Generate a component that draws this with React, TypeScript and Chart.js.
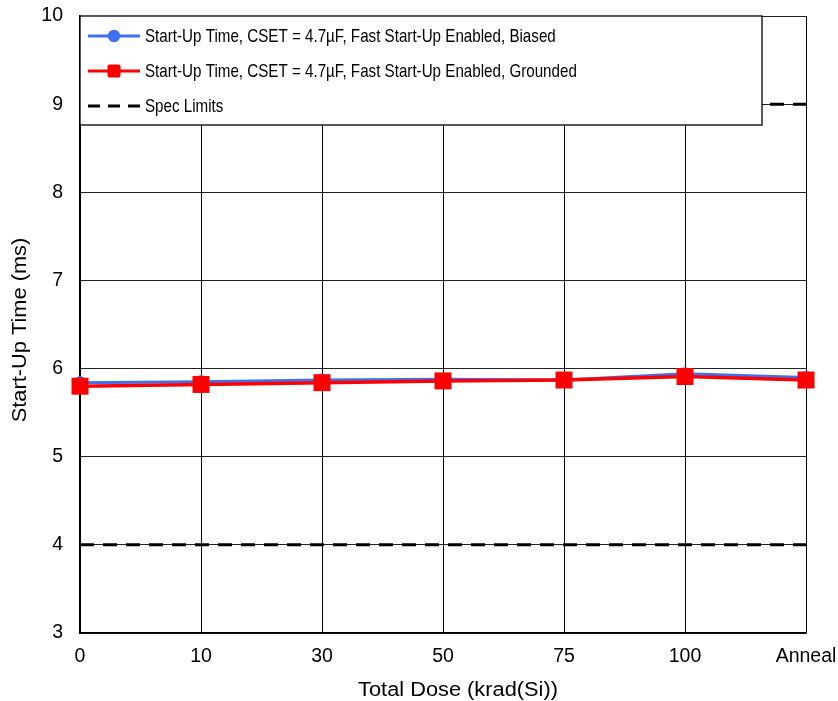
import React, { useEffect, useRef } from "react";
import { Chart, registerables } from "chart.js";

Chart.register(...registerables);

const categories = ["0", "10", "30", "50", "75", "100", "Anneal"];
const biased = [5.84, 5.85, 5.87, 5.88, 5.87, 5.94, 5.9];
const grounded = [5.8, 5.82, 5.84, 5.86, 5.87, 5.91, 5.87];
const specLow = [4, 4, 4, 4, 4, 4, 4];
const specHigh = [9, 9, 9, 9, 9, 9, 9];
const yTicks = [3, 4, 5, 6, 7, 8, 9, 10];
const xTitle = "Total Dose (krad(Si))";
const yTitle = "Start-Up Time (ms)";
const legendLabels = [
  "Start-Up Time, CSET = 4.7µF, Fast Start-Up Enabled, Biased",
  "Start-Up Time, CSET = 4.7µF, Fast Start-Up Enabled, Grounded",
  "Spec Limits",
];

const BLUE = "#3d70f3";
const RED = "#ff0000";
const FONT = "'Liberation Sans', Arial, sans-serif";

function drawText(ctx: any, text: string, x: number, y: number, size: number, sx: number, align: string, rot = 0) {
  ctx.save();
  ctx.translate(x, y);
  ctx.rotate(rot);
  ctx.scale(sx, 1);
  ctx.font = `${size}px ${FONT}`;
  ctx.textAlign = align;
  ctx.textBaseline = "middle";
  ctx.fillStyle = "#000";
  ctx.fillText(text, 0, 0);
  ctx.restore();
}

const textPlugin = {
  id: "axisText",
  afterDraw(chart: any) {
    const { ctx, chartArea, scales } = chart;
    const xs = scales.x;
    const ys = scales.y;
    xs.ticks.forEach((t: any, i: number) => {
      const px = xs.getPixelForTick(i);
      drawText(ctx, String(xs.getLabelForValue(t.value)), px, chartArea.bottom + 24, 19.5, 1, "center");
    });
    ys.ticks.forEach((t: any) => {
      const py = ys.getPixelForValue(t.value);
      drawText(ctx, String(t.value), chartArea.left - 17, py, 19.5, 1, "right");
    });
    drawText(ctx, xTitle, 458, chartArea.bottom + 57, 20, 1.09, "center");
    drawText(ctx, yTitle, 20, 330, 20, 1.09, "center", -Math.PI / 2);
  },
};

const legendPlugin = {
  id: "boxLegend",
  afterDatasetsDraw(chart: any) {
    const { ctx, chartArea } = chart;
    const x0 = chartArea.left;
    const y0 = chartArea.top;
    const w = 682;
    const h = 109;
    ctx.save();
    ctx.fillStyle = "#ffffff";
    ctx.fillRect(x0, y0, w, h);
    ctx.strokeStyle = "#000000";
    ctx.lineWidth = 1.3;
    ctx.strokeRect(x0, y0, w, h);
    const rows = [y0 + 20, y0 + 55, y0 + 90];
    rows.forEach((yy, i) => {
      const lx0 = x0 + 8;
      const lx1 = x0 + 60;
      ctx.beginPath();
      ctx.lineWidth = 3;
      if (i === 0) {
        ctx.strokeStyle = BLUE;
        ctx.setLineDash([]);
      } else if (i === 1) {
        ctx.strokeStyle = RED;
        ctx.setLineDash([]);
      } else {
        ctx.strokeStyle = "#000";
        ctx.setLineDash([12, 8]);
      }
      ctx.moveTo(lx0, yy);
      ctx.lineTo(lx1, yy);
      ctx.stroke();
      ctx.setLineDash([]);
      const mx = (lx0 + lx1) / 2;
      if (i === 0) {
        ctx.fillStyle = BLUE;
        ctx.beginPath();
        ctx.arc(mx, yy, 6.2, 0, Math.PI * 2);
        ctx.fill();
      } else if (i === 1) {
        ctx.fillStyle = RED;
        ctx.beginPath();
        if (ctx.roundRect) ctx.roundRect(mx - 6.5, yy - 6.5, 13, 13, 2);
        else ctx.rect(mx - 6.5, yy - 6.5, 13, 13);
        ctx.fill();
      }
      drawText(ctx, legendLabels[i], x0 + 65, yy + 1, 18.5, 0.82, "left");
    });
    ctx.restore();
  },
};

export default function App() {
  const ref = useRef<HTMLCanvasElement>(null);
  useEffect(() => {
    if (!ref.current) return;
    const chart = new Chart(ref.current, {
      type: "line",
      data: {
        labels: categories,
        datasets: [
          {
            label: "specLow",
            data: specLow,
            borderColor: "#000",
            borderWidth: 3,
            borderDash: [14, 9],
            pointRadius: 0,
            order: 3,
          },
          {
            label: "specHigh",
            data: specHigh,
            borderColor: "#000",
            borderWidth: 3,
            borderDash: [14, 9],
            pointRadius: 0,
            order: 3,
          },
          {
            label: legendLabels[0],
            data: biased,
            borderColor: BLUE,
            backgroundColor: BLUE,
            borderWidth: 3,
            pointStyle: "circle",
            pointRadius: 6.5,
            pointBorderWidth: 0,
            order: 2,
          },
          {
            label: legendLabels[1],
            data: grounded,
            borderColor: RED,
            backgroundColor: RED,
            borderWidth: 3.5,
            pointStyle: "rect",
            pointRadius: 12,
            pointBorderWidth: 0,
            order: 1,
          },
        ],
      },
      options: {
        animation: false,
        responsive: false,
        maintainAspectRatio: false,
        layout: { padding: { top: 16, right: 32, left: 0, bottom: 0 } },
        plugins: { legend: { display: false }, tooltip: { enabled: false } },
        scales: {
          x: {
            type: "category",
            offset: false,
            grid: { color: "#000", lineWidth: 1, drawTicks: false },
            border: { color: "#000", width: 1.5 },
            ticks: { display: false, autoSkip: false, maxRotation: 0 },
            title: { display: false },
            afterFit: (s: any) => { s.height = 68; s.paddingLeft = 0; s.paddingRight = 0; },
          },
          y: {
            min: 3,
            max: 10,
            grid: { color: "#222", lineWidth: 1, drawTicks: false },
            border: { color: "#000", width: 1.5 },
            afterBuildTicks: (s: any) => { s.ticks = yTicks.map((v) => ({ value: v })); },
            ticks: { display: false },
            title: { display: false },
            afterFit: (s: any) => { s.width = 80; s.paddingTop = 0; s.paddingBottom = 0; },
          },
        },
      },
      plugins: [legendPlugin, textPlugin],
    } as any);
    return () => chart.destroy();
  }, []);
  return (
    <div style={{ position: "fixed", left: 0, top: 0, width: 838, height: 701, background: "#fff" }}>
      <canvas ref={ref} width={838} height={701} style={{ width: 838, height: 701 }} />
    </div>
  );
}
